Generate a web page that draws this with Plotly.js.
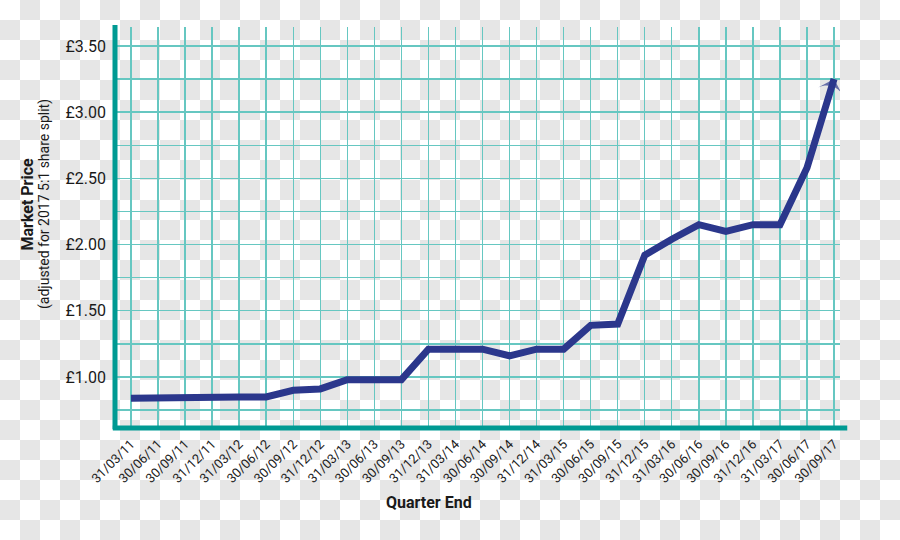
<!DOCTYPE html>
<html>
<head>
<meta charset="utf-8">
<script src="https://cdn.plot.ly/plotly-3.0.1.min.js"></script>
<style>
  html, body { margin: 0; padding: 0; background: #ffffff; }
  body { width: 900px; height: 540px; overflow: hidden; position: relative; }
  #checker { position: absolute; left: 0; top: 0; width: 900px; height: 540px; z-index: 0; }
  #chart { position: absolute; left: 0; top: 0; width: 900px; height: 540px; z-index: 1; }
  .svg-container, .main-svg { background: transparent !important; }
</style>
</head>
<body>
<svg id="checker" xmlns="http://www.w3.org/2000/svg" width="900" height="540">
  <defs>
    <pattern id="chk" x="0" y="0" width="40" height="40" patternUnits="userSpaceOnUse">
      <rect x="0" y="0" width="40" height="40" fill="#ffffff"/>
      <rect x="20" y="0" width="20" height="20" fill="#e6e6e6"/>
      <rect x="0" y="20" width="20" height="20" fill="#e6e6e6"/>
    </pattern>
  </defs>
  <rect x="0" y="0" width="900" height="540" fill="url(#chk)"/>
</svg>
<div id="chart"></div>
<script>
const quarters = ['31/03/11','30/06/11','30/09/11','31/12/11','31/03/12','30/06/12','30/09/12','31/12/12',
  '31/03/13','30/06/13','30/09/13','31/12/13','31/03/14','30/06/14','30/09/14','31/12/14',
  '31/03/15','30/06/15','30/09/15','31/12/15','31/03/16','30/06/16','30/09/16','31/12/16',
  '31/03/17','30/06/17','30/09/17'];
const prices = [0.84, 0.845, 0.85, 0.85, 0.85, 0.85, 0.90, 0.91,
  0.98, 0.98, 0.98, 1.21, 1.21, 1.21, 1.16, 1.21,
  1.21, 1.39, 1.40, 1.92, 2.04, 2.15, 2.10, 2.15,
  2.15, 2.58, 3.25];
const yTickVals = [0.75, 1.00, 1.25, 1.50, 1.75, 2.00, 2.25, 2.50, 2.75, 3.00, 3.25, 3.50];
const yTickText = ['', '£1.00', '', '£1.50', '', '£2.00', '', '£2.50', '', '£3.00', '', '£3.50'];
const yTitle = 'Market Price';
const ySubTitle = '(adjusted for 2017 5:1 share split)';
const xTitle = 'Quarter End';

const font = 'Roboto, Liberation Sans, sans-serif';
const navy = '#2b378c';
const teal = '#009a93';
const grid = '#66c7c1';
const ink = '#1a1a1a';

// arrow head only on the final point
const markerSizes = prices.map((v, i) => i === prices.length - 1 ? 18 : 0);

const lineTrace = {
  x: quarters,
  y: prices,
  type: 'scatter',
  mode: 'lines+markers',
  line: { color: navy, width: 7, backoff: 'auto' },
  marker: { symbol: 'arrow-wide', angleref: 'previous', size: markerSizes, color: navy, line: { width: 0 } },
  hoverinfo: 'skip'
};

const layout = {
  width: 900, height: 540,
  paper_bgcolor: 'rgba(0,0,0,0)',
  plot_bgcolor: 'rgba(0,0,0,0)',
  margin: { l: 115, r: 60, t: 27, b: 112 },
  showlegend: false,
  font: { family: font, color: ink },
  xaxis: {
    type: 'category',
    range: [-0.59, 26.22],
    tickangle: -45,
    showgrid: true, gridcolor: grid, gridwidth: 1.4,
    zeroline: false, showline: false, ticks: '',
    tickfont: { family: font, size: 13, color: ink },
    ticklabelstandoff: 5
  },
  yaxis: {
    range: [0.615, 3.643],
    tickmode: 'array', tickvals: yTickVals, ticktext: yTickText,
    showgrid: true, gridcolor: grid, gridwidth: 1.4,
    zeroline: false, showline: false, ticks: '',
    tickfont: { family: font, size: 16, color: ink },
    ticklabelstandoff: 8
  },
  shapes: [
    { type: 'line', xref: 'paper', yref: 'paper', x0: 0, x1: 0, y0: -0.003, y1: 1.005,
      line: { color: teal, width: 5 }, layer: 'above' },
    { type: 'line', xref: 'paper', yref: 'paper', x0: -0.003, x1: 1.01, y0: 0, y1: 0,
      line: { color: teal, width: 5 }, layer: 'above' }
  ],
  annotations: [
    { text: '<b>' + yTitle + '</b>', xref: 'paper', yref: 'paper', x: -0.122, y: 0.5586,
      xanchor: 'center', yanchor: 'middle', textangle: -90, showarrow: false,
      font: { family: font, size: 16, color: ink } },
    { text: ySubTitle, xref: 'paper', yref: 'paper', x: -0.098, y: 0.5586,
      xanchor: 'center', yanchor: 'middle', textangle: -90, showarrow: false,
      font: { family: font, size: 14, color: ink } },
    { text: '<b>' + xTitle + '</b>', xref: 'paper', yref: 'paper', x: 0.433, y: -0.186,
      xanchor: 'center', yanchor: 'middle', showarrow: false,
      font: { family: font, size: 16, color: ink } }
  ]
};

Plotly.newPlot('chart', [lineTrace], layout, { displayModeBar: false, staticPlot: true });
</script>
</body>
</html>
